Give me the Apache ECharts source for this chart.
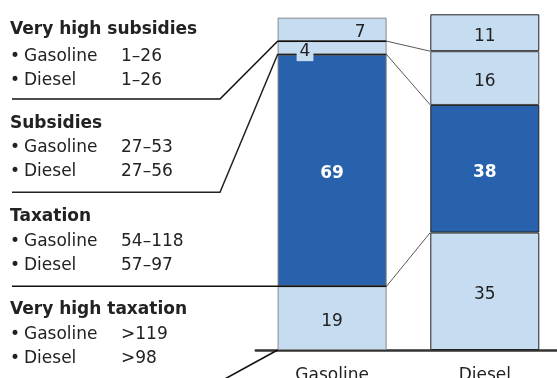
<!DOCTYPE html>
<html>
<head>
<meta charset="utf-8">
<script src="https://cdn.jsdelivr.net/npm/echarts@6/dist/echarts.min.js"></script>
<style>
  html, body { margin: 0; padding: 0; background: #fff; }
  #chart { width: 557px; height: 378px; }
</style>
</head>
<body>
<div id="chart"></div>
<script>
// Fuel price bands: number of countries in each band
const categories = ['Gasoline', 'Diesel'];
const veryHighTaxation = [19, 35];
const taxation = [69, 38];
const subsidies = [4, 16];
const veryHighSubsidies = [7, 11];

// Key on the left: band names and price ranges (US cents per litre)
const bandTitles = ['Very high subsidies', 'Subsidies', 'Taxation', 'Very high taxation'];
const gasolineRanges = ['1–26', '27–53', '54–118', '>119'];
const dieselRanges = ['1–26', '27–56', '57–97', '>98'];

const LIGHT = '#c6ddf1';
const DARK = '#2862ad';
const INK = '#222';
const FONT = '"DejaVu Sans", sans-serif';

const chart = echarts.init(document.getElementById('chart'), null, { renderer: 'canvas' });

function items(values, gasBorder, dieselBorder) {
  return values.map((v, i) => ({
    value: v,
    itemStyle: { borderColor: i === 0 ? gasBorder : dieselBorder, borderWidth: 1 }
  }));
}

const baseLabel = {
  show: true, position: 'inside', offset: [0, 3.5],
  color: INK, fontSize: 17, fontFamily: FONT
};

chart.setOption({
  animation: false,
  grid: {
    left: 255.75, right: -4.15, top: 14.3, bottom: 28,
    containLabel: false, outerBoundsMode: 'none'
  },
  xAxis: {
    type: 'category',
    data: categories,
    axisLine: { lineStyle: { color: '#333', width: 2.5 } },
    axisTick: { show: false },
    axisLabel: { color: INK, fontSize: 17, fontFamily: FONT, margin: 17 }
  },
  yAxis: { type: 'value', min: 0, max: 100, show: false },
  series: [
    {
      name: 'Very high taxation', type: 'bar', stack: 'all', barWidth: 109,
      itemStyle: { color: LIGHT },
      data: items(veryHighTaxation, '#888', '#222'),
      label: baseLabel
    },
    {
      name: 'Taxation', type: 'bar', stack: 'all', barWidth: 109,
      itemStyle: { color: DARK },
      data: items(taxation, '#777', '#222'),
      label: Object.assign({}, baseLabel, { color: '#fff', fontWeight: 'bold' })
    },
    {
      name: 'Subsidies', type: 'bar', stack: 'all', barWidth: 109,
      itemStyle: { color: LIGHT },
      data: subsidies.map((v, i) => ({
        value: v,
        itemStyle: { borderColor: i === 0 ? '#888' : '#444', borderWidth: 1 },
        label: { show: i !== 0 }
      })),
      label: baseLabel
    },
    {
      name: 'Very high subsidies', type: 'bar', stack: 'all', barWidth: 109,
      itemStyle: { color: LIGHT },
      data: veryHighSubsidies.map((v, i) => ({
        value: v,
        itemStyle: { borderColor: i === 0 ? '#888' : '#222', borderWidth: 1 },
        label: i === 0 ? { offset: [28, 3] } : {}
      })),
      label: baseLabel
    }
  ]
});

// Cumulative boundaries between bands, bottom to top
function tops(i) {
  const a = veryHighTaxation[i];
  const b = a + taxation[i];
  const c = b + subsidies[i];
  return [0, a, b, c];
}
const gasB = tops(0);
const dslB = tops(1);
const halfBar = 109 / 2;

function px(catIndex, value) {
  return chart.convertToPixel({ gridIndex: 0 }, [catIndex, value]);
}

const elements = [];
const textLeft = 10;
const nameLeft = 24;
const valueLeft = 121;
// first-row and second-row offsets below each heading
const rowOffsets = [[27, 51], [24, 48], [24.5, 48.5], [25, 49]];

// Key text blocks
bandTitles.forEach((title, g) => {
  const base = 35 + g * 93.3;
  elements.push({
    type: 'text', z: 50,
    style: { text: title, x: textLeft, y: base - 5, fill: INK, font: 'bold 17px ' + FONT, verticalAlign: 'middle' }
  });
  [['Gasoline', gasolineRanges[g]], ['Diesel', dieselRanges[g]]].forEach((row, r) => {
    const y = base + rowOffsets[g][r] - 5;
    elements.push({ type: 'text', z: 50, style: { text: '•', x: textLeft, y: y, fill: INK, font: '17px ' + FONT, verticalAlign: 'middle' } });
    elements.push({ type: 'text', z: 50, style: { text: row[0], x: nameLeft, y: y, fill: INK, font: '17px ' + FONT, verticalAlign: 'middle' } });
    elements.push({ type: 'text', z: 50, style: { text: row[1], x: valueLeft, y: y, fill: INK, font: '17px ' + FONT, verticalAlign: 'middle' } });
  });
});

// Leader lines from the key into the gasoline bar, then on to the diesel bar
const leaderTargets = [gasB[3], gasB[2], gasB[1], gasB[0]];
const dieselTargets = [dslB[3], dslB[2], dslB[1], null];
leaderTargets.forEach((v, g) => {
  const p = px(0, v);
  const left = p[0] - halfBar;
  const right = p[0] + halfBar;
  const underY = 35 + g * 93.3 + 64;
  let pts;
  if (g === 2) {
    pts = [[12, p[1]], [left, p[1]], [right, p[1]]];
  } else if (g === 3) {
    pts = [[212, 386], [left, p[1]]];
  } else {
    pts = [[12, underY], [220, underY], [left, p[1]], [right, p[1]]];
  }
  elements.push({
    type: 'polyline', z: 60,
    shape: { points: pts },
    style: { stroke: g === 1 ? '#222' : '#111', lineWidth: g === 3 ? 1.6 : 1.5, fill: null }
  });
  if (dieselTargets[g] !== null) {
    const q = px(1, dieselTargets[g]);
    elements.push({
      type: 'line', z: 60,
      shape: { x1: right, y1: p[1], x2: q[0] - halfBar, y2: q[1] },
      style: { stroke: '#444', lineWidth: 0.9 }
    });
  }
});

// Count for the gasoline "Subsidies" band, boxed over the leader line
const sTop = px(0, gasB[3]);
elements.push({
  type: 'text', z: 70,
  style: {
    text: String(subsidies[0]),
    x: sTop[0] - halfBar + 19, y: sTop[1] + 1,
    fill: INK, font: '17px ' + FONT,
    backgroundColor: LIGHT, padding: [1, 3, 1, 3], verticalAlign: 'top'
  }
});

chart.setOption({ graphic: { elements: elements } });
</script>
</body>
</html>
